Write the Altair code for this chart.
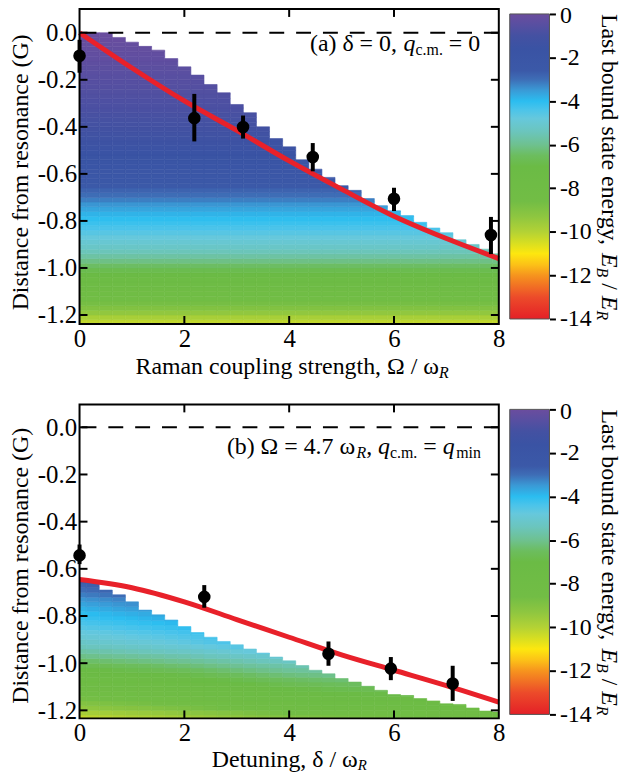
import altair as alt
import pandas as pd

FONT = "Liberation Serif"
BLACK = "#000000"
RED = "#e8212a"

# ---------------- colour bar (energy -> colour) ----------------
CB_VALUES = [-14, -13, -12, -11.5, -11, -10.5, -10, -9.3, -8.6, -7, -6.5, -6, -5.4,
             -4.8, -4.4, -4, -3.5, -3, -2.6, -1.6, -1, -0.5, 0]
CB_COLORS = ["#e42027", "#ec4b2a", "#f6941e", "#fcc217", "#fde70f", "#d6de22", "#b3d235",
             "#8ec640", "#72bd45", "#6bbb45", "#6cbd5e", "#6ec190", "#6bc5bd", "#66c8dc",
             "#4bc4ea", "#2bbdf0", "#3a9ad6", "#3e6db6", "#3b59a8", "#3a53a4", "#4451a2",
             "#584fa1", "#6b4d9e"]
CB_TICKS = [0, -2, -4, -6, -8, -10, -12, -14]

X_TICKS = [0, 2, 4, 6, 8]
Y_TICKS = [0.0, -0.2, -0.4, -0.6, -0.8, -1.0, -1.2]
MINOR_X = [2, 4, 6]

# ---------------- heat map columns ----------------
COL_X = [0.0, 0.25, 0.5, 0.75, 1.0, 1.25, 1.5, 1.75, 2.0, 2.25, 2.5, 2.75, 3.0, 3.25,
         3.5, 3.75, 4.0, 4.25, 4.5, 4.75, 5.0, 5.25, 5.5, 5.75, 6.0, 6.25, 6.5, 6.75,
         7.0, 7.25, 7.5, 7.75, 8.0]
TOP_A = [0.0, 0.0, 0.0, -0.02, -0.04, -0.058, -0.074, -0.11, -0.145, -0.18, -0.22,
         -0.255, -0.305, -0.34, -0.40, -0.45, -0.485, -0.54, -0.58, -0.615, -0.65,
         -0.67, -0.705, -0.735, -0.757, -0.778, -0.806, -0.83, -0.85, -0.88, -0.90,
         -0.92, -0.94]
TOP_B = [-0.65, -0.65, -0.69, -0.71, -0.74, -0.775, -0.795, -0.817, -0.845, -0.87,
         -0.89, -0.908, -0.922, -0.94, -0.957, -0.974, -0.99, -1.01, -1.03, -1.045,
         -1.065, -1.08, -1.098, -1.115, -1.133, -1.137, -1.15, -1.16, -1.172, -1.175,
         -1.19, -1.203, -1.207]
SHIFT_B = [0.0, 0.06, 0.12, 0.19, 0.25, 0.31, 0.37, 0.44, 0.5, 0.59, 0.68, 0.76, 0.85,
           0.94, 1.03, 1.11, 1.2, 1.25, 1.3, 1.35, 1.4, 1.44, 1.48, 1.51, 1.55, 1.58,
           1.6, 1.63, 1.65, 1.66, 1.68, 1.69, 1.7]
SHIFT_A = [0.0] * len(COL_X)

# heat map rows (bottom at -1.24 G, 0.02 G tall), energy read per row
ROW_BOTTOM = -1.24
ROW_H = 0.02
ROW_E = [-10.2, -9.8, -9.35, -9.0, -8.7, -8.45, -8.2, -7.95, -7.7, -7.4, -7.1, -6.8,
         -6.45, -6.1, -5.75, -5.45, -5.2, -5.0, -4.8, -4.6, -4.4, -4.2, -4.05, -3.85,
         -3.65, -3.45, -3.2, -3.0, -2.8, -2.6, -2.45, -2.3, -2.15, -2.0, -1.85, -1.7,
         -1.6, -1.5, -1.4, -1.3, -1.2, -1.1, -1.0, -0.95, -0.9, -0.85, -0.8, -0.75,
         -0.7, -0.65, -0.6, -0.55, -0.5, -0.45, -0.4, -0.35, -0.3, -0.25, -0.2, -0.15,
         -0.1, -0.05]

# ---------------- theory lines ----------------
LINE_A_X = [0, 1, 2, 3, 4, 5, 6, 7, 8]
LINE_A_Y = [0.0, -0.15, -0.29, -0.415, -0.545, -0.665, -0.78, -0.875, -0.96]
LINE_B_X = [0, 1, 2, 3, 4, 5, 6, 7, 8]
LINE_B_Y = [-0.645, -0.68, -0.74, -0.815, -0.89, -0.965, -1.03, -1.095, -1.165]

# ---------------- measurements ----------------
PTS_A_X = [0.0, 2.19, 3.12, 4.45, 6.0, 7.85]
PTS_A_Y = [-0.098, -0.363, -0.401, -0.528, -0.706, -0.86]
PTS_A_LO = [-0.17, -0.462, -0.45, -0.589, -0.758, -0.941]
PTS_A_HI = [-0.03, -0.26, -0.352, -0.469, -0.659, -0.783]

PTS_B_X = [0.0, 2.38, 4.75, 5.94, 7.12]
PTS_B_Y = [-0.543, -0.719, -0.96, -1.023, -1.086]
PTS_B_LO = [-0.58, -0.765, -1.011, -1.072, -1.16]
PTS_B_HI = [-0.497, -0.669, -0.908, -0.974, -1.011]

ONE = pd.DataFrame({"k": [0]})
W = 422
CB_W = 40
TICK_FS = 25

cscale = alt.Scale(domain=CB_VALUES, range=CB_COLORS, interpolate="rgb", clamp=True)


def heat_df(tops, shifts):
    rows = []
    for i, xc in enumerate(COL_X):
        for j, e in enumerate(ROW_E):
            lo = ROW_BOTTOM + ROW_H * j
            hi = min(lo + ROW_H, tops[i])
            if hi - lo <= 1e-9:
                continue
            rows.append({"x0": xc - 0.125, "x1": xc + 0.125, "y0": lo, "y1": hi,
                         "E": e + shifts[i]})
    return pd.DataFrame(rows)


def txt(text, x, y, size=24, style="normal", angle=0, align="left"):
    kw = dict(text=text, font=FONT, fontSize=size, fontStyle=style, align=align,
              baseline="alphabetic", color=BLACK)
    if angle:
        kw["angle"] = angle
    return alt.Chart(ONE).mark_text(**kw).encode(x=alt.value(x), y=alt.value(y))


def main_panel(heat, line, pts, H, ydom, texts, title_y, xpad):
    xs = alt.Scale(domain=[0, 8], nice=False, zero=False)
    ys = alt.Scale(domain=ydom, nice=False, zero=False)
    xax = alt.Axis(values=X_TICKS, ticks=False, tickSize=0, domain=False, grid=False,
                   labelFont=FONT, labelFontSize=TICK_FS, labelColor=BLACK, labelPadding=xpad,
                   labelFlush=False, labelOverlap=False, title="")
    yax = alt.Axis(values=Y_TICKS, ticks=False, tickSize=0, domain=False, grid=False,
                   labelFont=FONT, labelFontSize=TICK_FS, labelColor=BLACK, labelPadding=3,
                   labelFlush=False, labelOverlap=False,
                   labelExpr="datum.value < -0.001 ? '-' + format(-datum.value, '.1f') : '0.0'",
                   title="Distance from resonance (G)", titleFont=FONT, titleFontSize=24,
                   titleFontWeight="normal", titleColor=BLACK, titlePadding=5, titleY=title_y)

    def X(f):
        return alt.X(f, type="quantitative", scale=xs, axis=xax)

    def Y(f):
        return alt.Y(f, type="quantitative", scale=ys, axis=yax)

    heat_l = alt.Chart(heat).mark_rect(clip=True, strokeWidth=0.6).encode(
        x=X("x0"), x2="x1", y=Y("y0"), y2="y1",
        color=alt.Color("E", type="quantitative", scale=cscale, legend=None),
        stroke=alt.Stroke("E", type="quantitative", scale=cscale, legend=None))
    zero = alt.Chart(pd.DataFrame({"z": [0.0]})).mark_rule(
        color=BLACK, strokeWidth=2, strokeDash=[15, 12]).encode(y=Y("z"))
    red = alt.Chart(line).mark_line(color=RED, strokeWidth=5, interpolate="monotone").encode(
        x=X("x"), y=Y("y"))
    err = alt.Chart(pts).mark_rule(color=BLACK, strokeWidth=4).encode(
        x=X("x"), y=Y("lo"), y2="hi")
    dots = alt.Chart(pts).mark_circle(color=BLACK, opacity=1, size=160).encode(
        x=X("x"), y=Y("y"))
    ydf = pd.DataFrame({"v": Y_TICKS})
    xdf = pd.DataFrame({"v": MINOR_X})
    tl = alt.Chart(ydf).mark_rule(color=BLACK, strokeWidth=2).encode(
        y=Y("v"), x=alt.value(0), x2=alt.value(8))
    tr = alt.Chart(ydf).mark_rule(color=BLACK, strokeWidth=2).encode(
        y=Y("v"), x=alt.value(W - 8), x2=alt.value(W))
    tt = alt.Chart(xdf).mark_rule(color=BLACK, strokeWidth=2).encode(
        x=X("v"), y=alt.value(0), y2=alt.value(8))
    tb = alt.Chart(xdf).mark_rule(color=BLACK, strokeWidth=2).encode(
        x=X("v"), y=alt.value(H - 8), y2=alt.value(H))
    frame = alt.Chart(ONE).mark_rect(filled=False, stroke=BLACK, strokeWidth=2).encode(
        x=alt.value(0), x2=alt.value(W), y=alt.value(0), y2=alt.value(H))
    return alt.layer(heat_l, zero, red, err, dots, tl, tr, tt, tb, frame, *texts).properties(
        width=W, height=H)


def cbar(H, dom, y0):
    cbs = alt.Scale(domain=dom, nice=False, zero=False)
    cbax = alt.Axis(orient="right", values=CB_TICKS, ticks=True, tickSize=6, tickWidth=2,
                    tickColor=BLACK, domain=False, grid=False, labelFont=FONT,
                    labelFontSize=24, labelColor=BLACK, labelPadding=4, labelOverlap=False,
                    labelOffset=alt.condition("datum.value == 0", alt.value(2), alt.value(0)),
                    labelExpr="datum.value < 0 ? '-' + format(-datum.value, 'd') : '0'",
                    title="")
    grad = alt.LinearGradient(
        gradient="linear",
        stops=[alt.GradientStop(color=c, offset=(v + 14) / 14.0)
               for v, c in zip(CB_VALUES, CB_COLORS)],
        x1=0, x2=0, y1=1, y2=0)
    rect = alt.Chart(pd.DataFrame({"lo": [-14], "hi": [0]})).mark_rect(
        fill=grad, stroke="#555555", strokeWidth=1).encode(
        x=alt.value(0), x2=alt.value(CB_W),
        y=alt.Y("lo", type="quantitative", scale=cbs, axis=cbax), y2="hi")
    bx = 93.0
    f = 0.024
    sf = 0.016
    texts = [
        txt("Last bound state energy,", bx, y0, angle=90),
        txt("E", bx, y0 + 10026 * f, style="italic", angle=90),
        txt("B", bx - 5, y0 + 10026 * f + 611 * f, size=16, style="italic", angle=90),
        txt("/", bx, y0 + 10026 * f + 611 * f + 611 * sf + 250 * f, angle=90),
        txt("E", bx, y0 + 10026 * f + 611 * f + 611 * sf + 778 * f, style="italic", angle=90),
        txt("R", bx - 5, y0 + 10026 * f + 1222 * f + 611 * sf + 778 * f, size=16,
            style="italic", angle=90),
    ]
    return alt.layer(rect, *texts).properties(width=CB_W, height=H)


# ---------------- panel (a) ----------------
H_A = 317
heat_a = heat_df(TOP_A, SHIFT_A)
line_a = pd.DataFrame({"x": LINE_A_X, "y": LINE_A_Y})
pts_a = pd.DataFrame({"x": PTS_A_X, "y": PTS_A_Y, "lo": PTS_A_LO, "hi": PTS_A_HI})
f = 0.024
sf = 0.016
ax0 = 232.0
texts_a = [
    txt("Raman coupling strength, Ω / ω", 361.7, 367, align="right"),
    txt("R", 361.7, 371.5, size=16, style="italic"),
    txt("(a) δ = 0,", ax0, 42),
    txt("q", ax0 + 3924 * f, 42, style="italic"),
    txt("c.m.", ax0 + 4424 * f, 46, size=16),
    txt("= 0", ax0 + 4424 * f + 1722 * sf + 250 * f, 42),
]
main_a = main_panel(heat_a, line_a, pts_a, H_A, [-1.238, 0.101], texts_a, 164, 3)
cb_a = cbar(H_A, [-14.228, 0.228], 5)

# ---------------- panel (b) ----------------
H_B = 316
heat_b = heat_df(TOP_B, SHIFT_B)
line_b = pd.DataFrame({"x": LINE_B_X, "y": LINE_B_Y})
pts_b = pd.DataFrame({"x": PTS_B_X, "y": PTS_B_Y, "lo": PTS_B_LO, "hi": PTS_B_HI})
bx0 = 148.3
p1 = bx0 + 5434 * f
texts_b = [
    txt("Detuning, δ / ω", 280, 365, align="right"),
    txt("R", 280, 368, size=15, style="italic"),
    txt("(b) Ω = 4.7 ω", bx0, 50),
    txt("R", p1, 54, size=16, style="italic"),
    txt(",", p1 + 611 * sf, 50),
    txt("q", p1 + 611 * sf + 500 * f, 50, style="italic"),
    txt("c.m.", p1 + 611 * sf + 1000 * f, 54, size=16),
    txt("=", p1 + 611 * sf + 1000 * f + 1722 * sf + 250 * f, 50),
    txt("q", p1 + 611 * sf + 1000 * f + 1722 * sf + 1064 * f, 50, style="italic"),
    txt("min", p1 + 611 * sf + 1564 * f + 1722 * sf + 1064 * f, 54, size=16),
]
main_b = main_panel(heat_b, line_b, pts_b, H_B, [-1.234, 0.097], texts_b, 162, 2)
cb_b = cbar(H_B, [-14.182, 0.228], 5)

chart = alt.concat(main_a, cb_a, main_b, cb_b, columns=2,
                   spacing={"row": 81, "column": 11}, bounds="flush").configure_view(
    strokeWidth=0).properties(padding={"left": 0, "top": -7.5, "right": 2, "bottom": 0.3})

chart.save("out.html", embed_options={"renderer": "svg", "actions": False})
